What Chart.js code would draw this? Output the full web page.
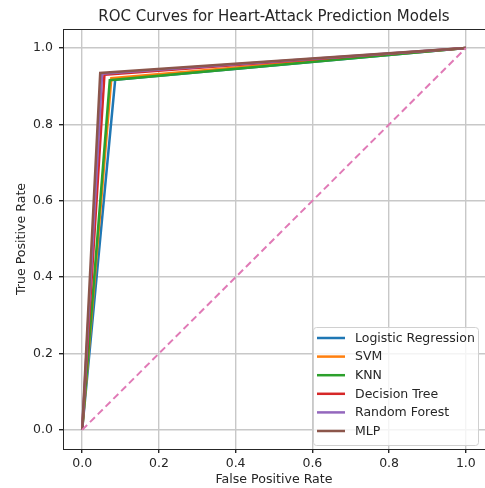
<!DOCTYPE html>
<html>
<head>
<meta charset="utf-8">
<script src="https://cdn.jsdelivr.net/npm/chart.js@4.4.0/dist/chart.umd.min.js"></script>
<style>
  html, body { margin: 0; padding: 0; background: #fff; }
  #wrap { width: 485px; height: 488px; }
</style>
</head>
<body>
<div id="wrap"><canvas id="rocChart" width="485" height="488"></canvas></div>
<script>
// ROC data: each curve goes (0,0) -> (fpr, tpr) -> (1,1)
const models = ['Logistic Regression', 'SVM', 'KNN', 'Decision Tree', 'Random Forest', 'MLP'];
const modelFpr = [0.086, 0.076, 0.072, 0.058, 0.052, 0.047];
const modelTpr = [0.917, 0.921, 0.916, 0.930, 0.933, 0.935];
const modelColors = ['#1f77b4', '#ff7f0e', '#2ca02c', '#d62728', '#9467bd', '#8c564b'];
const tickValues = [0, 0.2, 0.4, 0.6, 0.8, 1.0];
const chanceLine = [0, 1];

const FONT = "'DejaVu Sans', sans-serif";
const TEXT = '#262626';

// later models are drawn on top, like matplotlib does
const datasets = models.map((name, i) => ({
    label: name,
    data: [
        { x: 0, y: 0 },
        { x: modelFpr[i], y: modelTpr[i] },
        { x: 1, y: 1 }
    ],
    borderColor: modelColors[i],
    backgroundColor: modelColors[i],
    borderWidth: 2.5,
    pointRadius: 0,
    tension: 0,
    fill: false,
    order: models.length - i
}));

// chance diagonal
datasets.push({
    label: '_chance',
    data: chanceLine.map(v => ({ x: v, y: v })),
    borderColor: '#e07ab6',
    borderWidth: 2,
    borderDash: [7, 4],
    pointRadius: 0,
    fill: false,
    order: 0
});

// title, axis titles, top frame and the inset legend
const decorations = {
    id: 'decorations',
    afterDraw(chart) {
        const { ctx, chartArea: a } = chart;
        ctx.save();

        ctx.strokeStyle = '#262626';
        ctx.lineWidth = 1;
        ctx.beginPath();
        ctx.moveTo(a.left, a.top + 0.5);
        ctx.lineTo(a.right, a.top + 0.5);
        ctx.stroke();

        ctx.fillStyle = TEXT;
        ctx.textAlign = 'center';
        ctx.textBaseline = 'middle';
        ctx.font = '15px ' + FONT;
        ctx.fillText('ROC Curves for Heart-Attack Prediction Models', (a.left + a.right) / 2, 17);

        ctx.font = '12.6px ' + FONT;
        ctx.fillText('False Positive Rate', (a.left + a.right) / 2, 480);
        ctx.save();
        ctx.translate(22, (a.top + a.bottom) / 2);
        ctx.rotate(-Math.PI / 2);
        ctx.fillText('True Positive Rate', 0, 0);
        ctx.restore();

        // legend box
        const bx = 313, by = 327, bw = 165, bh = 118;
        ctx.fillStyle = 'rgba(255,255,255,0.8)';
        ctx.strokeStyle = '#d0d0d0';
        ctx.beginPath();
        ctx.roundRect(bx + 0.5, by + 0.5, bw, bh, 3);
        ctx.fill();
        ctx.stroke();

        ctx.textAlign = 'left';
        ctx.font = '12.5px ' + FONT;
        models.forEach((name, i) => {
            const y = 338 + i * 18.6;
            ctx.strokeStyle = modelColors[i];
            ctx.lineWidth = 2.5;
            ctx.beginPath();
            ctx.moveTo(317, y);
            ctx.lineTo(345, y);
            ctx.stroke();
            ctx.fillStyle = TEXT;
            ctx.fillText(name, 355, y + 0.5);
        });
        ctx.restore();
    }
};

const axisCommon = {
    type: 'linear',
    min: -0.05,
    max: 1.05,
    afterBuildTicks: scale => { scale.ticks = tickValues.map(v => ({ value: v })); },
    grid: {
        color: '#c8c8c8',
        lineWidth: 1.4,
        drawTicks: true,
        tickLength: 4,
        tickColor: '#262626'
    },
    border: { display: true, color: '#262626' },
    ticks: {
        color: TEXT,
        font: { family: FONT, size: 12.5 },
        callback: v => v.toFixed(1)
    }
};

new Chart(document.getElementById('rocChart').getContext('2d'), {
    type: 'line',
    data: { datasets },
    options: {
        responsive: false,
        animation: false,
        layout: { padding: { top: 29, right: 0, left: 0, bottom: 0 } },
        plugins: {
            legend: { display: false },
            title: { display: false },
            tooltip: { enabled: false }
        },
        scales: {
            x: {
                ...axisCommon,
                position: 'bottom',
                ticks: { ...axisCommon.ticks, padding: 3, maxRotation: 0 },
                afterFit: scale => { scale.height = 39; }
            },
            y: {
                ...axisCommon,
                position: 'left',
                ticks: { ...axisCommon.ticks, padding: 6 },
                afterFit: scale => { scale.width = 63; }
            }
        }
    },
    plugins: [decorations]
});
</script>
</body>
</html>
